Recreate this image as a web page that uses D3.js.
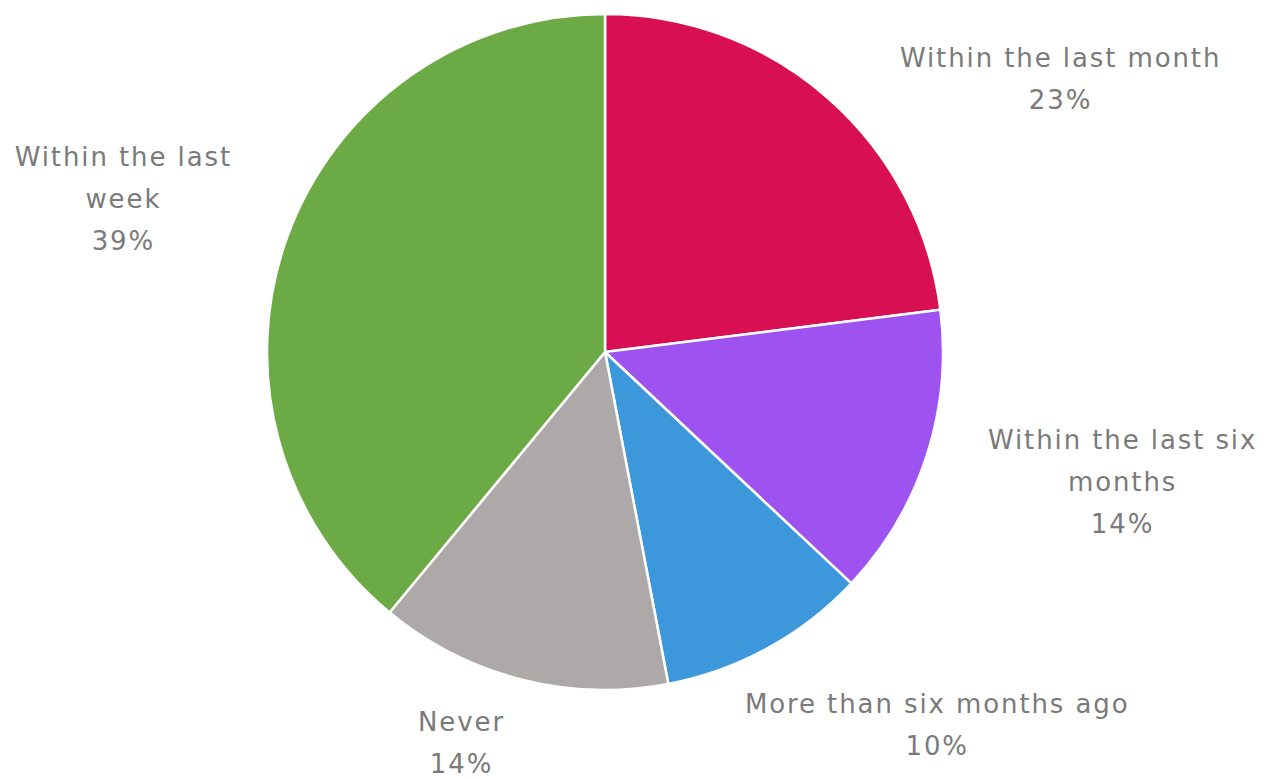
<!DOCTYPE html>
<html>
<head>
<meta charset="utf-8">
<script src="https://cdn.jsdelivr.net/npm/d3@7"></script>
<style>
  html, body { margin: 0; padding: 0; background: #fff; }
  svg { display: block; }
  text { font-family: "DejaVu Sans", "Noto Sans", sans-serif; }
</style>
</head>
<body>
<svg id="chart" width="1264" height="781"></svg>
<script>
// Survey answers, clockwise from 12 o'clock
const categories = [
  "Within the last month",
  "Within the last six months",
  "More than six months ago",
  "Never",
  "Within the last week"
];
const values = [23, 14, 10, 14, 39];
const labelLines = [
  ["Within the last month"],
  ["Within the last six", "months"],
  ["More than six months ago"],
  ["Never"],
  ["Within the last", "week"]
];
const colors = ["#D80F53", "#9E53F1", "#3C97DB", "#AEA9A9", "#6CAA45"];

// Label placement tweaks (pixels) relative to the anchor point on the label ring
const labelNudge = [[37, 20], [12, 9], [-48, 31], [-3, 13], [-6, -21]];

const width = 1264, height = 781;
const cx = 605, cy = 352, radius = 338, labelRadius = 390;
const fontSize = 26, lineHeight = 42, letterSpacing = 1.9;

const svg = d3.select("#chart");
const g = svg.append("g").attr("transform", `translate(${cx},${cy})`);

const data = categories.map((c, i) => ({ name: c, value: values[i], lines: labelLines[i], color: colors[i], nudge: labelNudge[i] }));

const pie = d3.pie().sort(null).value(d => d.value);
const arc = d3.arc().innerRadius(0).outerRadius(radius);
const arcs = pie(data);

g.selectAll("path.slice")
  .data(arcs)
  .join("path")
  .attr("class", "slice")
  .attr("d", arc)
  .attr("fill", d => d.data.color)
  .attr("stroke", "#fff")
  .attr("stroke-width", 2.5)
  .attr("stroke-linejoin", "round");

// Labels: category lines plus percentage, centred as a block beside the slice
arcs.forEach(a => {
  const mid = (a.startAngle + a.endAngle) / 2;
  const ax = labelRadius * Math.sin(mid) + a.data.nudge[0];
  const ay = -labelRadius * Math.cos(mid) + a.data.nudge[1];
  const rightSide = Math.sin(mid) > 0;
  const lines = a.data.lines.concat([a.data.value + "%"]);

  const block = g.append("g");
  const texts = block.selectAll("text")
    .data(lines)
    .join("text")
    .attr("text-anchor", "middle")
    .attr("font-size", fontSize)
    .attr("letter-spacing", letterSpacing)
    .attr("fill", "#7a7a7a")
    .attr("dominant-baseline", "central")
    .attr("y", (d, i) => (i - (lines.length - 1) / 2) * lineHeight)
    .text(d => d);

  let maxW = 0;
  texts.each(function () { maxW = Math.max(maxW, this.getComputedTextLength()); });
  const bx = rightSide ? ax + maxW / 2 : ax - maxW / 2;
  block.attr("transform", `translate(${bx},${ay})`);
});
</script>
</body>
</html>
